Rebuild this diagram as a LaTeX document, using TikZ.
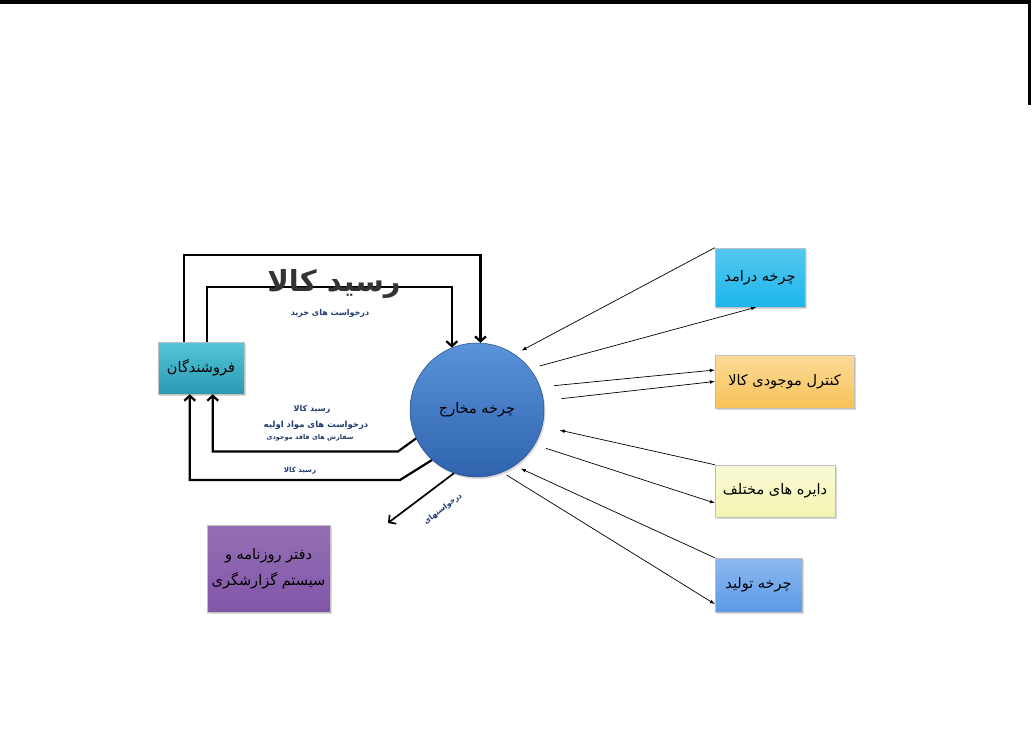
\documentclass[tikz,border=0pt]{standalone}
\usepackage{fontspec}
\usepackage{xcolor}
\usetikzlibrary{arrows,arrows.meta,positioning,shadows,calc}
\newfontfamily\arabicfont[Script=Arabic]{DejaVu Sans}
\TeXXeTstate=1
\newcommand{\fatxt}[1]{{\arabicfont\beginR #1\endR}}

\definecolor{vendorTop}{HTML}{52C6DA}
\definecolor{vendorBot}{HTML}{2A9AB2}
\definecolor{costTop}{HTML}{5A93DA}
\definecolor{costBot}{HTML}{2F63AE}
\definecolor{incomeCol}{HTML}{1CB6EA}
\definecolor{stockCol}{HTML}{F8C256}
\definecolor{deptCol}{HTML}{F4F4B0}
\definecolor{prodCol}{HTML}{5C9AE8}
\definecolor{journalCol}{HTML}{8156A8}
\definecolor{labelCol}{HTML}{1F3A6E}

\begin{document}
\begin{tikzpicture}[x=1pt, y=-1pt,
    box/.style={rectangle, draw=black!25, line width=0.5pt, inner sep=2pt,
        drop shadow={opacity=0.3, shadow xshift=1.5pt, shadow yshift=-2pt},
        font=\fontsize{14.5}{17}\selectfont, text=black},
    heavy/.style={line width=2.2pt, -{Straight Barb[length=5pt, width=11pt]}},
    feed/.style={line width=0.7pt, -latex},
    tag/.style={font=\bfseries\fontsize{#1}{#1}\selectfont, text=labelCol, inner sep=1pt}]

    \path[use as bounding box] (0,0) rectangle (1032,746);

    % Frame
    \draw[line width=4pt] (0,2) -- (1031,2);
    \draw[line width=3pt] (1029.5,1) -- (1029.5,105);

    % Vendors and cost cycle
    \node[box, minimum width=86pt, minimum height=52pt, top color=vendorTop, bottom color=vendorBot] (vendor) at (201,368) {\fatxt{فروشندگان}};

    \node[circle, minimum size=134pt, inner sep=0pt, draw=costBot!80!black, line width=0.5pt,
        top color=costTop, bottom color=costBot,
        drop shadow={opacity=0.3, shadow xshift=1.5pt, shadow yshift=-2pt},
        font=\fontsize{14.5}{17}\selectfont] (cost) at (477,410) {\fatxt{چرخه مخارج}};

    % Other cycles
    \node[box, minimum width=90pt, minimum height=59pt, top color=incomeCol!75!white, bottom color=incomeCol] (income) at (760,277.5) {\fatxt{چرخه درامد}};
    \node[box, minimum width=139pt, minimum height=53pt, top color=stockCol!60!white, bottom color=stockCol] (stock) at (784.5,381.5) {\fatxt{کنترل موجودی کالا}};
    \node[box, minimum width=120pt, minimum height=52pt, top color=deptCol!50!white, bottom color=deptCol] (dept) at (775,491) {\fatxt{دایره های مختلف}};
    \node[box, minimum width=87pt, minimum height=54pt, top color=prodCol!70!white, bottom color=prodCol] (prod) at (758.5,585) {\fatxt{چرخه تولید}};

    % Journal
    \node[box, minimum width=123pt, minimum height=87pt, align=center, top color=journalCol!85!white, bottom color=journalCol] (journal) at (268.5,568.5) {\fatxt{دفتر روزنامه و}\\[9pt] \fatxt{سیستم گزارشگری}};

    % Vendor flows
    \draw[heavy] ([xshift=26pt]vendor.north west) -- ++(0,-87) -| (cost.87);
    \draw[heavy] ([xshift=49pt]vendor.north west) -- ++(0,-55) -| (cost.112);
    \draw[heavy] (cost.205) -- ++(-18,13) -| ([xshift=55pt]vendor.south west);
    \draw[heavy] (cost.228) -- ++(-32,20) -| ([xshift=32pt]vendor.south west);

    \coordinate (reqEnd) at (388,523);
    \draw[heavy, line width=1.7pt] (cost.250) -- (reqEnd);

    % Right side flows
    \draw[feed, shorten >=8pt] (income.north west) -- (cost.56);
    \draw[feed, shorten <=10pt] (cost.38) -- ([xshift=-4pt]income.south);
    \draw[feed, shorten <=14pt] (cost.20) -- ([yshift=11.5pt]stock.west);
    \draw[feed, shorten <=18pt] (cost.8) -- (stock.west);
    \draw[feed, shorten >=18pt] (dept.north west) -- (cost.346);
    \draw[feed, shorten <=12pt] (cost.329) -- ([yshift=-12pt]dept.west);
    \draw[feed, shorten >=7pt] (prod.north west) -- (cost.304);
    \draw[feed, shorten <=5pt] (cost.292) -- ([yshift=-19pt]prod.west);

    % Labels
    \node[font=\bfseries\fontsize{29}{34}\selectfont, text=black!80, inner sep=0pt] (bigLbl) at (334,284) {\fatxt{رسید کالا}};
    \node[tag=8] (buyLbl) at (330,313) {\fatxt{درخواست های خرید}};
    \node[tag=8] (recvLbl) at (312,409) {\fatxt{رسید کالا}};
    \node[tag=8.5] (rawLbl) at (316,425) {\fatxt{درخواست های مواد اولیه}};
    \node[tag=6.5] (backLbl) at (310,438) {\fatxt{سفارش های فاقد موجودی}};
    \node[tag=7] (recv2Lbl) at (300,471) {\fatxt{رسید کالا}};
    \node[tag=7.5, rotate=37] (reqLbl) at (443,509) {\fatxt{درخواستهای}};

\end{tikzpicture}
\end{document}
